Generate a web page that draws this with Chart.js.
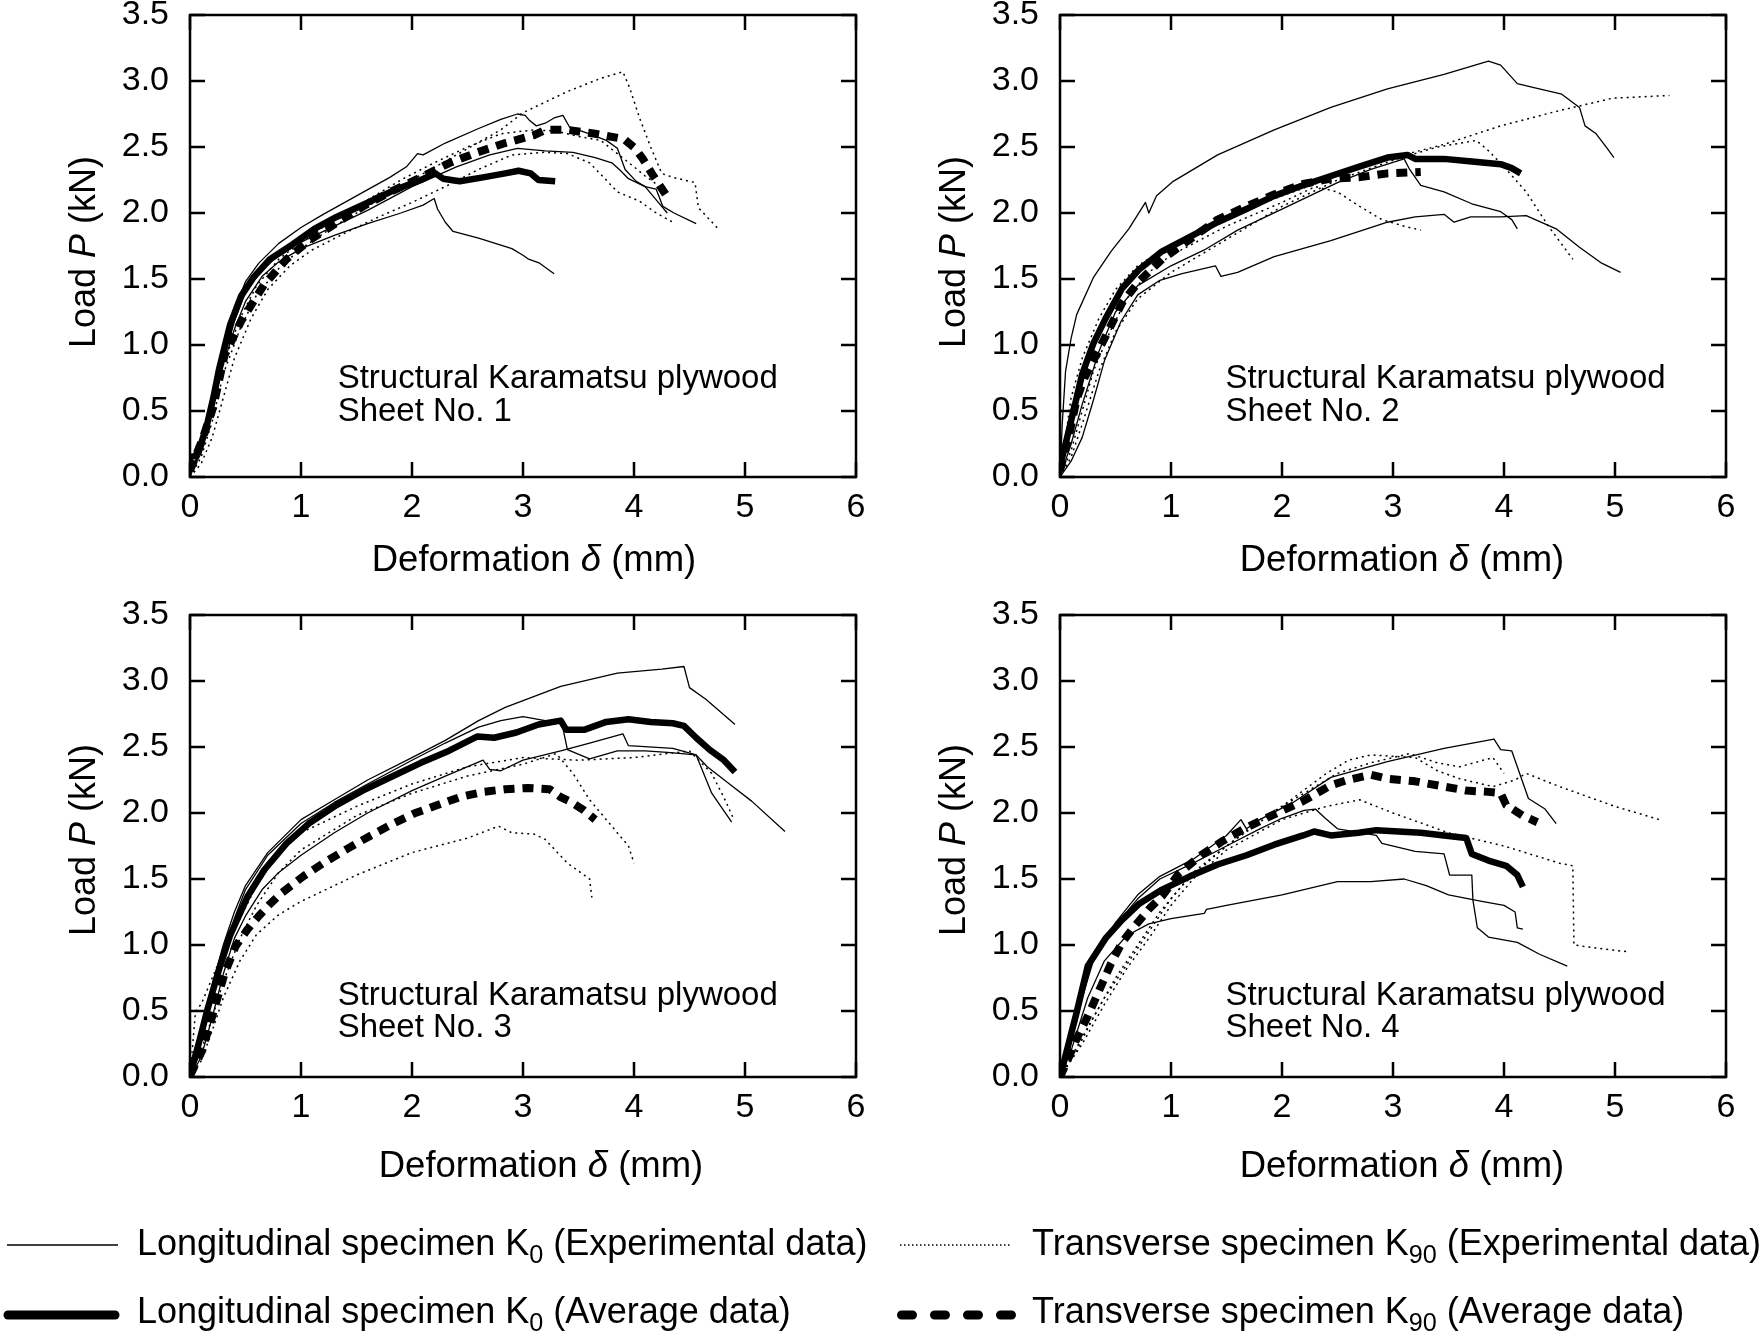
<!DOCTYPE html>
<html>
<head>
<meta charset="utf-8">
<script src="https://cdn.jsdelivr.net/npm/chart.js@4.4.1/dist/chart.umd.min.js"></script>
<style>
  body { margin: 0; background: #fff; }
  #page { position: relative; width: 1764px; height: 1336px; overflow: hidden; background: #fff;
          font-family: "Liberation Sans", Arial, Helvetica, sans-serif; color: #000; }
  canvas { position: absolute; }
  .legtext { position: absolute; font-size: 36px; line-height: 1; white-space: nowrap; transform: translateY(-50%); }
  .legtext sub { font-size: 70%; vertical-align: -0.32em; line-height: 0; }
</style>
</head>
<body>
<div id="page">
  <canvas id="c1"></canvas>
  <canvas id="c2"></canvas>
  <canvas id="c3"></canvas>
  <canvas id="c4"></canvas>
  <canvas id="legendLines" width="1764" height="146" style="left:0;top:1190px"></canvas>
  <div class="legtext" style="left:137px;top:1243px">Longitudinal specimen K<sub>0</sub> (Experimental data)</div>
  <div class="legtext" style="left:1032px;top:1243px">Transverse specimen K<sub>90</sub> (Experimental data)</div>
  <div class="legtext" style="left:137px;top:1311px">Longitudinal specimen K<sub>0</sub> (Average data)</div>
  <div class="legtext" style="left:1032px;top:1311px">Transverse specimen K<sub>90</sub> (Average data)</div>
</div>
<script>
const FONT = '"Liberation Sans", Arial, Helvetica, sans-serif';

// axis ticks
const xTickValues = [0, 1, 2, 3, 4, 5, 6];
const yTickValues = [0, 0.5, 1.0, 1.5, 2.0, 2.5, 3.0, 3.5];
const noteTitle = 'Structural Karamatsu plywood';
const sheetNames = ['Sheet No. 1', 'Sheet No. 2', 'Sheet No. 3', 'Sheet No. 4'];

// ---- Sheet No. 1  [deformation mm, load kN]
const s1LongExp1 = [[0,0],[0.1,0.22],[0.2,0.58],[0.3,0.97],[0.4,1.27],[0.5,1.48],[0.62,1.62],[0.8,1.77],[1.0,1.89],[1.2,1.99],[1.5,2.13],[1.8,2.27],[1.95,2.35],[2.05,2.45],[2.1,2.44],[2.3,2.53],[2.6,2.64],[2.8,2.71],[2.95,2.75],[3.02,2.74],[3.06,2.7],[3.12,2.66],[3.2,2.68],[3.28,2.72],[3.36,2.74],[3.42,2.65],[3.6,2.6],[3.75,2.55],[3.85,2.49],[3.92,2.33],[4.02,2.24],[4.1,2.2],[4.2,2.18],[4.26,2.05],[4.36,2.0],[4.56,1.92]];
const s1LongExp2 = [[0,0.02],[0.1,0.18],[0.2,0.5],[0.3,0.88],[0.4,1.18],[0.5,1.4],[0.65,1.57],[0.8,1.68],[1.0,1.78],[1.3,1.9],[1.6,2.02],[2.0,2.2],[2.4,2.35],[2.7,2.44],[2.95,2.49],[3.2,2.47],[3.45,2.46],[3.65,2.42],[3.8,2.38],[3.88,2.32],[3.95,2.26],[4.1,2.2],[4.2,2.1],[4.3,2.0]];
const s1LongExp3 = [[0,0.05],[0.1,0.2],[0.2,0.5],[0.3,0.85],[0.4,1.12],[0.5,1.33],[0.65,1.52],[0.8,1.63],[1.0,1.73],[1.3,1.83],[1.6,1.92],[1.9,2.0],[2.1,2.06],[2.2,2.11],[2.23,2.03],[2.3,1.93],[2.37,1.86],[2.6,1.81],[2.9,1.73],[3.0,1.68],[3.05,1.65],[3.15,1.62],[3.28,1.54]];
const s1TransExp1 = [[0,0],[0.1,0.15],[0.2,0.42],[0.3,0.78],[0.45,1.12],[0.6,1.38],[0.8,1.58],[1.0,1.73],[1.3,1.9],[1.6,2.05],[2.0,2.25],[2.4,2.44],[2.8,2.63],[3.0,2.76],[3.4,2.92],[3.7,3.02],[3.9,3.07],[3.96,2.95],[4.05,2.72],[4.15,2.5],[4.25,2.3],[4.35,2.27],[4.55,2.23],[4.58,2.04],[4.77,1.87]];
const s1TransExp2 = [[0,0],[0.1,0.1],[0.2,0.3],[0.3,0.6],[0.4,0.9],[0.55,1.2],[0.7,1.42],[0.9,1.6],[1.1,1.72],[1.4,1.85],[1.7,1.97],[2.0,2.08],[2.3,2.2],[2.6,2.33],[2.9,2.44],[3.2,2.46],[3.4,2.45],[3.6,2.38],[3.75,2.25],[3.85,2.16],[4.05,2.09],[4.2,2.0],[4.35,1.93]];
const s1TransExp3 = [[0,0.02],[0.1,0.2],[0.2,0.5],[0.3,0.85],[0.45,1.2],[0.6,1.45],[0.8,1.65],[1.0,1.78],[1.3,1.95],[1.6,2.1],[1.9,2.25],[2.2,2.38],[2.5,2.5],[2.8,2.6],[3.1,2.63],[3.3,2.62],[3.5,2.58],[3.7,2.55],[3.85,2.45],[4.0,2.35],[4.1,2.28],[4.2,2.22]];
const s1LongAvg = [[0,0.15],[0.05,0.16],[0.1,0.25],[0.16,0.42],[0.21,0.6],[0.26,0.81],[0.31,0.98],[0.36,1.15],[0.46,1.37],[0.57,1.51],[0.72,1.65],[0.92,1.76],[1.12,1.88],[1.32,1.97],[1.58,2.07],[1.83,2.17],[2.08,2.25],[2.21,2.3],[2.28,2.26],[2.43,2.24],[2.64,2.27],[2.84,2.3],[2.96,2.32],[3.07,2.3],[3.14,2.25],[3.29,2.24]];
const s1TransAvg = [[0,0.05],[0.11,0.28],[0.21,0.53],[0.31,0.92],[0.46,1.18],[0.67,1.46],[0.87,1.65],[1.07,1.79],[1.33,1.93],[1.58,2.06],[1.83,2.17],[2.08,2.27],[2.34,2.38],[2.59,2.46],[2.84,2.53],[3.1,2.59],[3.2,2.63],[3.4,2.63],[3.65,2.6],[3.91,2.56],[4.01,2.49],[4.08,2.41],[4.16,2.3],[4.23,2.21],[4.31,2.11]];

// ---- Sheet No. 2
const s2LongExp1 = [[0,0],[0.02,0.4],[0.05,0.8],[0.1,1.05],[0.15,1.23],[0.3,1.51],[0.46,1.71],[0.62,1.88],[0.77,2.08],[0.8,2.0],[0.87,2.13],[1.02,2.24],[1.42,2.44],[1.93,2.63],[2.44,2.8],[2.95,2.94],[3.46,3.05],[3.86,3.15],[3.97,3.12],[4.12,2.98],[4.27,2.95],[4.52,2.9],[4.68,2.8],[4.73,2.66],[4.83,2.6],[4.93,2.49],[4.99,2.42]];
const s2LongExp2 = [[0,0],[0.1,0.25],[0.2,0.55],[0.35,0.95],[0.5,1.25],[0.7,1.45],[1.0,1.6],[1.3,1.72],[1.6,1.87],[2.0,2.03],[2.5,2.23],[2.8,2.33],[3.1,2.41],[3.15,2.33],[3.25,2.21],[3.46,2.16],[3.71,2.07],[3.97,2.01],[4.07,1.95],[4.12,1.88]];
const s2LongExp3 = [[0,0],[0.1,0.12],[0.2,0.3],[0.3,0.58],[0.4,0.88],[0.55,1.18],[0.7,1.38],[0.9,1.49],[1.1,1.54],[1.4,1.6],[1.45,1.52],[1.6,1.55],[1.93,1.67],[2.44,1.79],[2.95,1.93],[3.2,1.97],[3.46,1.99],[3.55,1.93],[3.7,1.97],[3.97,1.97],[4.2,1.98],[4.47,1.88],[4.68,1.74],[4.88,1.62],[5.05,1.55]];
const s2TransExp1 = [[0,0],[0.05,0.3],[0.1,0.6],[0.2,0.9],[0.35,1.2],[0.5,1.42],[0.7,1.6],[1.0,1.76],[1.5,1.97],[2.0,2.13],[2.5,2.28],[3.0,2.42],[3.46,2.52],[3.97,2.66],[4.47,2.77],[4.98,2.87],[5.49,2.89]];
const s2TransExp2 = [[0,0],[0.1,0.15],[0.2,0.4],[0.35,0.8],[0.5,1.1],[0.7,1.35],[1.0,1.55],[1.5,1.8],[2.0,2.05],[2.5,2.25],[3.0,2.4],[3.4,2.5],[3.75,2.55],[3.85,2.48],[4.0,2.35],[4.2,2.16],[4.4,1.9],[4.62,1.65]];
const s2TransExp3 = [[0,0],[0.1,0.2],[0.2,0.5],[0.3,0.8],[0.45,1.1],[0.6,1.35],[0.8,1.55],[1.0,1.68],[1.5,1.9],[2.0,2.08],[2.3,2.2],[2.5,2.16],[2.7,2.05],[2.9,1.95],[3.1,1.9],[3.25,1.87]];
const s2LongAvg = [[0,0.08],[0.05,0.25],[0.13,0.53],[0.2,0.78],[0.3,1.01],[0.41,1.2],[0.56,1.43],[0.71,1.57],[0.92,1.71],[1.17,1.82],[1.42,1.93],[1.68,2.03],[1.93,2.13],[2.19,2.21],[2.44,2.28],[2.69,2.35],[2.95,2.42],[3.13,2.44],[3.2,2.41],[3.46,2.41],[3.71,2.39],[3.97,2.37],[4.07,2.34],[4.15,2.3]];
const s2TransAvg = [[0,0.05],[0.08,0.31],[0.15,0.59],[0.22,0.75],[0.36,0.98],[0.46,1.15],[0.56,1.32],[0.71,1.48],[0.92,1.65],[1.17,1.8],[1.42,1.95],[1.68,2.05],[1.93,2.14],[2.19,2.22],[2.44,2.26],[2.69,2.27],[2.95,2.3],[3.25,2.31]];

// ---- Sheet No. 3
const s3LongExp1 = [[0,0],[0.1,0.35],[0.2,0.7],[0.3,1.0],[0.4,1.25],[0.5,1.45],[0.7,1.7],[1.0,1.95],[1.3,2.1],[1.6,2.25],[2.0,2.42],[2.3,2.55],[2.6,2.7],[2.84,2.8],[3.34,2.96],[3.85,3.06],[4.25,3.09],[4.45,3.11],[4.5,2.95],[4.65,2.86],[4.91,2.67]];
const s3LongExp2 = [[0,0],[0.1,0.3],[0.2,0.65],[0.3,0.95],[0.4,1.2],[0.5,1.42],[0.7,1.68],[1.0,1.92],[1.3,2.08],[1.6,2.22],[2.0,2.4],[2.3,2.53],[2.6,2.65],[2.8,2.7],[3.0,2.73],[3.2,2.7],[3.35,2.68],[3.4,2.48],[3.6,2.41],[3.85,2.47],[4.1,2.47],[4.3,2.46],[4.56,2.44],[4.7,2.15],[4.88,1.93]];
const s3LongExp3 = [[0,0],[0.1,0.15],[0.2,0.45],[0.3,0.78],[0.4,1.05],[0.5,1.22],[0.65,1.42],[0.8,1.55],[1.0,1.68],[1.3,1.85],[1.6,2.0],[2.0,2.17],[2.3,2.28],[2.64,2.4],[2.7,2.33],[2.8,2.32],[3.0,2.4],[3.34,2.47],[3.6,2.53],[3.9,2.6],[3.95,2.51],[4.35,2.49],[4.56,2.44],[4.66,2.35],[4.86,2.22],[5.06,2.09],[5.36,1.86]];
const s3TransExp1 = [[0,0],[0.1,0.12],[0.2,0.35],[0.3,0.6],[0.45,0.88],[0.6,1.08],[0.8,1.23],[1.0,1.33],[1.5,1.53],[2.0,1.7],[2.5,1.81],[2.78,1.9],[2.9,1.85],[3.1,1.84],[3.2,1.8],[3.4,1.62],[3.6,1.5],[3.62,1.36]];
const s3TransExp2 = [[0,0],[0.1,0.2],[0.2,0.45],[0.3,0.72],[0.45,1.05],[0.6,1.3],[0.8,1.55],[1.0,1.72],[1.5,1.98],[2.0,2.15],[2.5,2.28],[3.0,2.37],[3.3,2.45],[3.45,2.3],[3.6,2.1],[3.8,1.9],[3.95,1.75],[4.0,1.62]];
const s3TransExp3 = [[0,0],[0.05,0.5],[0.1,0.55],[0.2,0.75],[0.3,0.95],[0.45,1.2],[0.6,1.45],[0.8,1.7],[1.0,1.85],[1.5,2.05],[2.0,2.22],[2.5,2.35],[3.0,2.42],[3.5,2.4],[4.0,2.42],[4.5,2.47],[4.7,2.3],[4.82,2.1],[4.9,1.95]];
const s3LongAvg = [[0,0.01],[0.09,0.29],[0.16,0.52],[0.26,0.81],[0.36,1.07],[0.52,1.37],[0.67,1.57],[0.87,1.77],[1.07,1.92],[1.32,2.06],[1.58,2.18],[1.83,2.28],[2.08,2.38],[2.33,2.47],[2.59,2.58],[2.74,2.57],[2.94,2.61],[3.14,2.67],[3.34,2.7],[3.39,2.63],[3.55,2.63],[3.75,2.69],[3.95,2.71],[4.15,2.69],[4.35,2.68],[4.45,2.66],[4.56,2.57],[4.68,2.48],[4.81,2.4],[4.91,2.31]];
const s3TransAvg = [[0,0.01],[0.11,0.2],[0.21,0.49],[0.31,0.78],[0.41,0.99],[0.52,1.12],[0.62,1.22],[0.72,1.31],[0.82,1.39],[1.02,1.52],[1.22,1.63],[1.42,1.73],[1.63,1.83],[1.83,1.92],[2.03,2.0],[2.23,2.06],[2.43,2.12],[2.64,2.16],[2.84,2.18],[3.04,2.19],[3.24,2.18],[3.34,2.12],[3.44,2.08],[3.55,2.02],[3.65,1.95]];

// ---- Sheet No. 4
const s4LongExp1 = [[0,0],[0.1,0.3],[0.2,0.65],[0.3,0.9],[0.5,1.17],[0.7,1.38],[0.9,1.52],[1.2,1.65],[1.5,1.83],[1.63,1.95],[1.68,1.88],[1.8,1.95],[2.1,2.08],[2.44,2.27],[2.95,2.39],[3.46,2.49],[3.91,2.56],[3.97,2.48],[4.07,2.47],[4.12,2.35],[4.22,2.11],[4.37,2.03],[4.47,1.92]];
const s4LongExp2 = [[0,0],[0.1,0.3],[0.2,0.6],[0.3,0.88],[0.5,1.15],[0.7,1.35],[0.9,1.5],[1.2,1.62],[1.5,1.75],[1.8,1.88],[2.0,1.96],[2.2,2.02],[2.3,2.03],[2.39,1.96],[2.5,1.88],[2.85,1.83],[2.9,1.77],[3.2,1.71],[3.46,1.69],[3.51,1.53],[3.71,1.53],[3.72,1.34],[3.76,1.13],[3.86,1.06],[4.12,1.02],[4.32,0.93],[4.57,0.84]];
const s4LongExp3 = [[0,0],[0.1,0.2],[0.25,0.6],[0.4,0.88],[0.6,1.07],[0.8,1.16],[1.0,1.2],[1.3,1.24],[1.32,1.27],[1.5,1.3],[2.0,1.38],[2.5,1.48],[2.8,1.48],[3.1,1.5],[3.3,1.45],[3.5,1.38],[3.8,1.33],[4.0,1.3],[4.1,1.25],[4.12,1.13],[4.17,1.12]];
const s4TransExp1 = [[0,0],[0.2,0.3],[0.4,0.6],[0.6,0.85],[0.8,1.1],[1.0,1.35],[1.2,1.55],[1.5,1.75],[2.0,2.05],[2.4,2.3],[2.6,2.4],[2.8,2.44],[3.0,2.43],[3.2,2.42],[3.4,2.32],[3.6,2.26],[3.9,2.2],[4.1,2.25],[4.2,2.3],[4.5,2.2],[5.0,2.05],[5.4,1.95]];
const s4TransExp2 = [[0,0],[0.2,0.25],[0.4,0.55],[0.6,0.82],[0.8,1.05],[1.0,1.3],[1.2,1.5],[1.5,1.72],[2.0,1.95],[2.4,2.05],[2.7,2.1],[3.0,2.0],[3.5,1.85],[4.0,1.75],[4.5,1.62],[4.62,1.6],[4.63,1.0],[4.9,0.97],[5.1,0.95]];
const s4TransExp3 = [[0,0],[0.15,0.2],[0.3,0.45],[0.5,0.75],[0.7,1.0],[0.9,1.25],[1.1,1.45],[1.4,1.68],[1.8,1.95],[2.2,2.15],[2.5,2.3],[2.8,2.38],[3.15,2.45],[3.4,2.38],[3.6,2.35],[3.9,2.42],[4.0,2.3]];
const s4LongAvg = [[0,0],[0.08,0.26],[0.15,0.49],[0.25,0.84],[0.41,1.05],[0.56,1.19],[0.71,1.31],[0.92,1.42],[1.17,1.52],[1.42,1.61],[1.68,1.68],[1.93,1.76],[2.19,1.83],[2.29,1.86],[2.44,1.83],[2.69,1.85],[2.85,1.87],[3.05,1.86],[3.25,1.85],[3.46,1.83],[3.66,1.81],[3.71,1.69],[3.86,1.64],[4.02,1.6],[4.12,1.53],[4.17,1.44]];
const s4TransAvg = [[0,0],[0.08,0.15],[0.15,0.29],[0.25,0.46],[0.36,0.67],[0.46,0.86],[0.56,1.02],[0.66,1.13],[0.81,1.28],[0.92,1.37],[1.07,1.54],[1.27,1.68],[1.47,1.79],[1.68,1.89],[1.93,1.99],[2.19,2.09],[2.44,2.21],[2.59,2.25],[2.8,2.29],[2.95,2.26],[3.2,2.24],[3.46,2.2],[3.66,2.17],[3.86,2.16],[3.97,2.15],[4.02,2.06],[4.17,1.98],[4.3,1.93]];

// panel layout (page pixels) and note anchors (data units)
const panels = [
  { id: 'c1', left: 0,   top: 0,   w: 880, h: 590, area: [190, 15, 856, 477],  xtDx: 11, xtDy: 84, ytDy: 6,
    note: [1.33, 0.742, 0.492], sheet: 0,
    long: [s1LongExp1, s1LongExp2, s1LongExp3], trans: [s1TransExp1, s1TransExp2, s1TransExp3], longAvg: s1LongAvg, transAvg: s1TransAvg },
  { id: 'c2', left: 880, top: 0,   w: 884, h: 590, area: [180, 15, 846, 477],  xtDx: 9, xtDy: 84, ytDy: 6,
    note: [1.49, 0.742, 0.492], sheet: 1,
    long: [s2LongExp1, s2LongExp2, s2LongExp3], trans: [s2TransExp1, s2TransExp2, s2TransExp3], longAvg: s2LongAvg, transAvg: s2TransAvg },
  { id: 'c3', left: 0,   top: 590, w: 880, h: 600, area: [190, 25, 856, 487],  xtDx: 18, xtDy: 90, ytDy: -6,
    note: [1.33, 0.614, 0.371], sheet: 2,
    long: [s3LongExp1, s3LongExp2, s3LongExp3], trans: [s3TransExp1, s3TransExp2, s3TransExp3], longAvg: s3LongAvg, transAvg: s3TransAvg },
  { id: 'c4', left: 880, top: 590, w: 884, h: 600, area: [180, 25, 846, 487],  xtDx: 9, xtDy: 90, ytDy: -6,
    note: [1.49, 0.614, 0.371], sheet: 3,
    long: [s4LongExp1, s4LongExp2, s4LongExp3], trans: [s4TransExp1, s4TransExp2, s4TransExp3], longAvg: s4LongAvg, transAvg: s4TransAvg }
];

const toXY = arr => arr.map(([x, y]) => ({ x, y }));

function drawRich(ctx, parts, cx, cy, size) {
  let total = 0;
  parts.forEach(p => { ctx.font = (p[1] ? 'italic ' : '') + size + 'px ' + FONT; total += ctx.measureText(p[0]).width; });
  let x = cx - total / 2;
  ctx.textAlign = 'left';
  ctx.textBaseline = 'middle';
  parts.forEach(p => {
    ctx.font = (p[1] ? 'italic ' : '') + size + 'px ' + FONT;
    ctx.fillText(p[0], x, cy);
    x += ctx.measureText(p[0]).width;
  });
}

// box with inward ticks, axis titles and the sheet note
const framePlugin = {
  id: 'frame',
  afterDraw(chart) {
    const p = chart.options.plugins.frame;
    const { ctx, chartArea: a, scales: { x, y } } = chart;
    ctx.save();
    ctx.strokeStyle = '#000';
    ctx.fillStyle = '#000';
    ctx.lineWidth = 2.5;
    ctx.lineCap = 'butt';
    ctx.strokeRect(a.left, a.top, a.right - a.left, a.bottom - a.top);
    ctx.beginPath();
    x.ticks.forEach(t => {
      const px = x.getPixelForValue(t.value);
      ctx.moveTo(px, a.bottom); ctx.lineTo(px, a.bottom - 15);
      ctx.moveTo(px, a.top); ctx.lineTo(px, a.top + 15);
    });
    y.ticks.forEach(t => {
      const py = y.getPixelForValue(t.value);
      ctx.moveTo(a.left, py); ctx.lineTo(a.left + 15, py);
      ctx.moveTo(a.right, py); ctx.lineTo(a.right - 15, py);
    });
    ctx.stroke();

    drawRich(ctx, [['Deformation ', false], ['δ', true], [' (mm)', false]],
      (a.left + a.right) / 2 + p.xtDx, a.bottom + p.xtDy, 36.5);
    ctx.save();
    ctx.translate(a.left - 105, (a.top + a.bottom) / 2 + p.ytDy);
    ctx.rotate(-Math.PI / 2);
    drawRich(ctx, [['Load ', false], ['P', true], [' (kN)', false]], 0, 0, 36);
    ctx.restore();

    ctx.font = '33px ' + FONT;
    ctx.textAlign = 'left';
    ctx.textBaseline = 'middle';
    const nx = x.getPixelForValue(p.note[0]);
    ctx.fillText(noteTitle, nx, y.getPixelForValue(p.note[1]));
    ctx.fillText(sheetNames[p.sheet], nx, y.getPixelForValue(p.note[2]));
    ctx.restore();
  }
};

function makeChart(pn) {
  const cv = document.getElementById(pn.id);
  cv.width = pn.w; cv.height = pn.h;
  cv.style.left = pn.left + 'px'; cv.style.top = pn.top + 'px';
  const [al, at, ar, ab] = pn.area;

  const datasets = [];
  pn.long.forEach(arr => datasets.push({ data: toXY(arr), borderColor: '#000', borderWidth: 1.3, order: 2 }));
  pn.trans.forEach(arr => datasets.push({ data: toXY(arr), borderColor: '#000', borderWidth: 1.5, borderDash: [2, 4], order: 2 }));
  datasets.push({ data: toXY(pn.longAvg), borderColor: '#000', borderWidth: 6.5, order: 0 });
  datasets.push({ data: toXY(pn.transAvg), borderColor: '#000', borderWidth: 8, borderDash: [11, 8], borderCapStyle: 'butt', order: 1 });
  datasets.forEach(d => { d.showLine = true; d.pointRadius = 0; d.fill = false; d.tension = 0; d.borderJoinStyle = 'round'; });

  new Chart(cv.getContext('2d'), {
    type: 'scatter',
    data: { datasets },
    options: {
      responsive: false,
      animation: false,
      devicePixelRatio: 1,
      events: [],
      layout: { padding: { left: 0, top: at, right: pn.w - ar, bottom: 0 } },
      plugins: {
        legend: { display: false },
        tooltip: { enabled: false },
        frame: { xtDx: pn.xtDx, xtDy: pn.xtDy, ytDy: pn.ytDy, note: pn.note, sheet: pn.sheet }
      },
      scales: {
        x: {
          type: 'linear', min: 0, max: 6,
          afterBuildTicks: s => { s.ticks = xTickValues.map(v => ({ value: v })); },
          ticks: { color: '#000', font: { family: FONT, size: 34 }, padding: 10, maxRotation: 0, callback: v => String(v) },
          grid: { display: false, drawTicks: false },
          border: { display: false },
          afterFit: s => { s.height = pn.h - ab; s.paddingLeft = 0; s.paddingRight = 0; }
        },
        y: {
          type: 'linear', min: 0, max: 3.5,
          afterBuildTicks: s => { s.ticks = yTickValues.map(v => ({ value: v })); },
          ticks: { color: '#000', font: { family: FONT, size: 34 }, padding: 21, callback: v => Number(v).toFixed(1) },
          grid: { display: false, drawTicks: false },
          border: { display: false },
          afterFit: s => { s.width = al; s.paddingTop = 0; s.paddingBottom = 0; }
        }
      }
    },
    plugins: [framePlugin]
  });
}

panels.forEach(makeChart);

// legend line samples
(function () {
  const ctx = document.getElementById('legendLines').getContext('2d');
  ctx.strokeStyle = '#000';
  ctx.lineWidth = 1.5;
  ctx.beginPath(); ctx.moveTo(7, 55); ctx.lineTo(118, 55); ctx.stroke();
  ctx.setLineDash([1.5, 2.5]);
  ctx.beginPath(); ctx.moveTo(900, 55); ctx.lineTo(1012, 55); ctx.stroke();
  ctx.setLineDash([]);
  ctx.lineWidth = 9; ctx.lineCap = 'round';
  ctx.beginPath(); ctx.moveTo(8, 125); ctx.lineTo(115, 125); ctx.stroke();
  ctx.setLineDash([11, 22]);
  ctx.beginPath(); ctx.moveTo(901.5, 125); ctx.lineTo(1012, 125); ctx.stroke();
})();
</script>
</body>
</html>
